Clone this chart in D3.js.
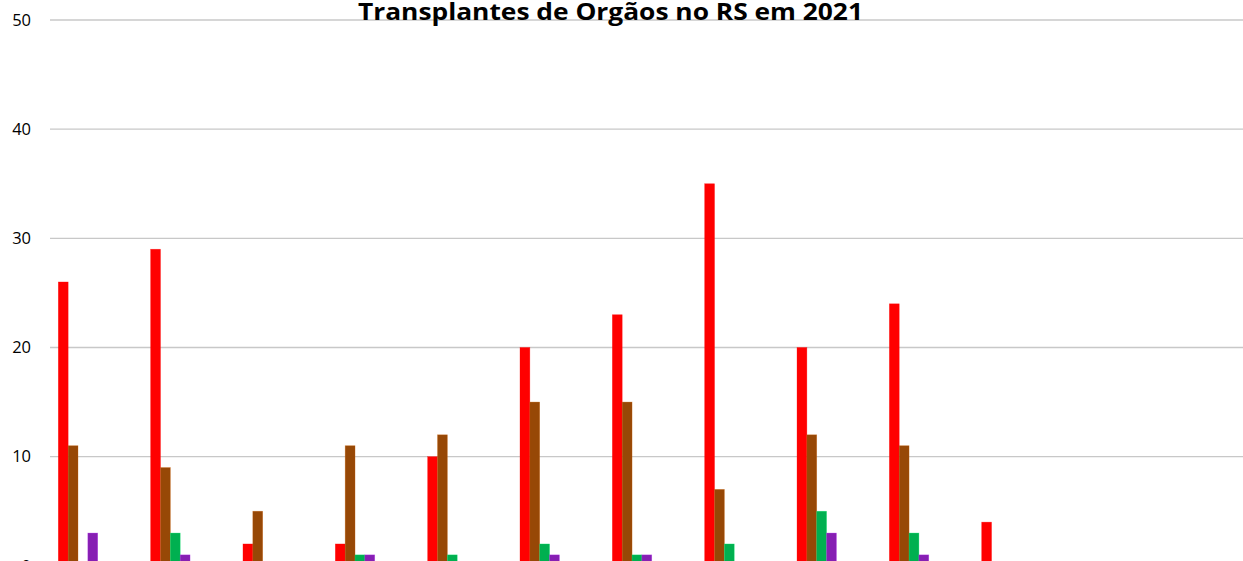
<!DOCTYPE html>
<html>
<head>
<meta charset="utf-8">
<script src="https://cdn.jsdelivr.net/npm/d3@7"></script>
<style>
  html, body { margin: 0; padding: 0; background: #fff; overflow: hidden; }
  svg { display: block; }
</style>
</head>
<body>
<script>
// ---- data ----
const title = "Transplantes de Orgãos no RS em 2021";
const months = ["Jan", "Fev", "Mar", "Abr", "Mai", "Jun", "Jul", "Ago", "Set", "Out", "Nov", "Dez"];
const seriesNames = ["Rim", "Fígado", "Coração", "Pulmão"];
const rim     = [26, 29, 2, 2, 10, 20, 23, 35, 20, 24, 4, 0];
const figado  = [11, 9, 5, 11, 12, 15, 15, 7, 12, 11, 0, 0];
const coracao = [0, 3, 0, 1, 1, 2, 1, 2, 5, 3, 0, 0];
const pulmao  = [3, 1, 0, 1, 0, 1, 1, 0, 3, 1, 0, 0];
const yTicks = [0, 10, 20, 30, 40, 50];
const colors = ["#FF0000", "#974806", "#00B050", "#861FB3"];

const seriesValues = [rim, figado, coracao, pulmao];

const W = 1243, H = 561;
const svg = d3.select("body").append("svg").attr("width", W).attr("height", H);

const plotLeft = 50, plotRight = W;
const catW = 92.34;
const x0 = d3.scaleBand().domain(months).range([plotLeft, plotLeft + catW * months.length]).padding(0);
const x1 = d3.scaleBand().domain(seriesNames).range([8.3, 8.3 + 4 * 9.85]).padding(0);
const y = d3.scaleLinear().domain([0, 50]).range([565.8, 20]);

// gridlines
svg.append("g").selectAll("line").data(yTicks).join("line")
  .attr("x1", plotLeft).attr("x2", plotRight)
  .attr("y1", d => y(d)).attr("y2", d => y(d))
  .attr("stroke", "#c8c8c8").attr("stroke-width", 1.3);

// y axis labels
const yAxis = d3.axisLeft(y).tickValues(yTicks).tickSize(0).tickPadding(0);
const ya = svg.append("g").attr("transform", "translate(31,0)").call(yAxis);
ya.select(".domain").remove();
ya.selectAll("text")
  .attr("font-family", "'Open Sans', sans-serif")
  .attr("font-size", 16.5)
  .attr("fill", "#000");

// bars
const data = [];
months.forEach((m, i) => {
  seriesNames.forEach((s, j) => {
    data.push({ m, s, v: seriesValues[j][i], c: colors[j] });
  });
});
svg.append("g").selectAll("rect").data(data.filter(d => d.v > 0)).join("rect")
  .attr("x", d => x0(d.m) + x1(d.s))
  .attr("width", x1.bandwidth())
  .attr("y", d => y(d.v))
  .attr("height", d => y(0) - y(d.v))
  .attr("fill", d => d.c)
  .attr("stroke", d => d3.color(d.c).brighter(0.8))
  .attr("stroke-opacity", 0.5)
  .attr("stroke-width", 0.6);

// title
svg.append("text")
  .attr("x", 610.5).attr("y", 19.5)
  .attr("text-anchor", "middle")
  .attr("font-family", "'Open Sans', sans-serif")
  .attr("font-weight", "bold")
  .attr("font-size", 24)
  .attr("textLength", 505)
  .attr("lengthAdjust", "spacingAndGlyphs")
  .attr("fill", "#000")
  .text(title);
</script>
</body>
</html>
